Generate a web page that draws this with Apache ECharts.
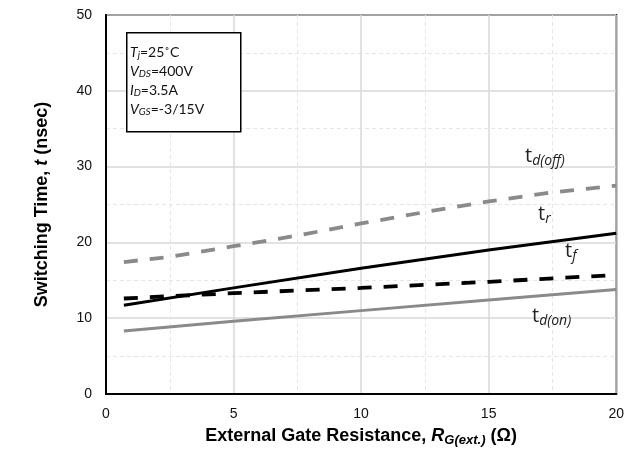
<!DOCTYPE html>
<html>
<head>
<meta charset="utf-8">
<script src="https://cdn.jsdelivr.net/npm/echarts@6/dist/echarts.min.js"></script>
<style>
html,body{margin:0;padding:0;background:#fff;}
#chart{width:627px;height:455px;}
</style>
</head>
<body>
<div id="chart"></div>
<script>
// ---- data (x = external gate resistance in ohm, y = switching time in ns) ----
const xTicks = [0, 5, 10, 15, 20];
const yTicks = [0, 10, 20, 30, 40, 50];

const tdOffX = [0.7, 2.5, 5, 7.5, 10, 12.5, 15, 17.5, 20];
const tdOffY = [17.4, 18.1, 19.5, 20.9, 22.5, 24.0, 25.4, 26.6, 27.5];

const trX = [0.7, 5, 10, 15, 20];
const trY = [11.7, 14.0, 16.6, 19.0, 21.2];

const tfX = [0.7, 2.5, 5, 10, 15, 20];
const tfY = [12.6, 12.9, 13.3, 14.0, 14.8, 15.7];

const tdOnX = [0.7, 5, 10, 15, 20];
const tdOnY = [8.3, 9.6, 11.0, 12.4, 13.8];

function pairs(xs, ys) { return xs.map((x, i) => [x, ys[i]]); }

const chart = echarts.init(document.getElementById('chart'), null, {renderer: 'canvas'});

const GRAY = '#8a8a8a';
const labelFont = '"Open Sans", Lato, sans-serif';
const boxFont = 'Lato, "Open Sans", sans-serif';
const arial = 'Liberation Sans, Arial, sans-serif';

function annot(left, top, main, sub) {
  return {
    type: 'text', left: left, top: top, z: 100,
    style: {
      text: '{m|' + main + '}{s|' + sub + '}',
      rich: {
        m: {fontFamily: labelFont, fontSize: 20, fill: '#222', lineHeight: 24},
        s: {fontFamily: labelFont, fontSize: 14, fontStyle: 'italic', fill: '#222', lineHeight: 14, padding: [9, 0, 0, 0]}
      }
    }
  };
}

const boxRich = {
  it: {fontFamily: boxFont, fontSize: 14, fontStyle: 'italic', fill: '#111', lineHeight: 19},
  sb: {fontFamily: boxFont, fontSize: 10, fontStyle: 'italic', fill: '#111', lineHeight: 10, padding: [6, 0, 0, 0]},
  n: {fontFamily: boxFont, fontSize: 14, fill: '#111', lineHeight: 19}
};

const option = {
  animation: false,
  backgroundColor: '#fff',
  grid: {left: 106, right: 8, top: 15, bottom: 61, show: true, borderColor: '#000', borderWidth: 2, containLabel: false},
  xAxis: {
    type: 'value', min: xTicks[0], max: xTicks[xTicks.length - 1], interval: 5,
    axisLine: {show: true, lineStyle: {color: '#000', width: 2}},
    axisTick: {show: false},
    axisLabel: {fontFamily: arial, fontSize: 14, color: '#111', margin: 13},
    splitLine: {show: true, lineStyle: {color: '#d9d9d9', width: 1.5}},
    minorTick: {show: false, splitNumber: 2},
    minorSplitLine: {show: true, lineStyle: {color: '#e6e6e6', width: 1, type: [4, 3]}},
    name: '{b|External Gate Resistance, }{bi|R}{bs|G(ext.)}{b| (Ω)}',
    nameLocation: 'middle', nameGap: 28,
    nameTextStyle: {
      rich: {
        b: {fontFamily: arial, fontSize: 18, fontWeight: 'bold', color: '#000', lineHeight: 24},
        bi: {fontFamily: arial, fontSize: 18, fontWeight: 'bold', fontStyle: 'italic', color: '#000', lineHeight: 24},
        bs: {fontFamily: arial, fontSize: 13, fontWeight: 'bold', fontStyle: 'italic', color: '#000', lineHeight: 13, padding: [8, 0, 0, 0]}
      }
    }
  },
  yAxis: {
    type: 'value', min: yTicks[0], max: yTicks[yTicks.length - 1], interval: 10,
    axisLine: {show: true, lineStyle: {color: '#000', width: 2}},
    axisTick: {show: false},
    axisLabel: {fontFamily: arial, fontSize: 14, color: '#111', margin: 14},
    splitLine: {show: true, lineStyle: {color: '#d9d9d9', width: 1.5}},
    minorTick: {show: false, splitNumber: 2},
    minorSplitLine: {show: true, lineStyle: {color: '#e6e6e6', width: 1, type: [4, 3]}},
    name: '{b|Switching Time, }{bi|t}{b| (nsec)}',
    nameLocation: 'middle', nameGap: 55, nameRotate: 90,
    nameTextStyle: {
      rich: {
        b: {fontFamily: arial, fontSize: 18, fontWeight: 'bold', color: '#000'},
        bi: {fontFamily: arial, fontSize: 18, fontWeight: 'bold', fontStyle: 'italic', color: '#000'}
      }
    }
  },
  series: [
    {name: 'td(off)', type: 'line', data: pairs(tdOffX, tdOffY), showSymbol: false, z: 5,
     lineStyle: {color: GRAY, width: 3.8, type: [14, 12]}},
    {name: 'tr', type: 'line', data: pairs(trX, trY), showSymbol: false, z: 5,
     lineStyle: {color: '#000', width: 3}},
    {name: 'tf', type: 'line', data: pairs(tfX, tfY), showSymbol: false, z: 6,
     lineStyle: {color: '#000', width: 3.8, type: [14, 12]}},
    {name: 'td(on)', type: 'line', data: pairs(tdOnX, tdOnY), showSymbol: false, z: 5,
     lineStyle: {color: GRAY, width: 3}}
  ],
  graphic: [
    {type: 'rect', left: 126, top: 32, z: 90,
     shape: {width: 114, height: 99},
     style: {fill: '#fff', stroke: '#000', lineWidth: 1.5}},
    {type: 'text', left: 130, top: 44, z: 100,
     style: {
       text: '{it|T}{sb|j}{n|=25˚C}\n{it|V}{sb|DS}{n|=400V}\n{it|I}{sb|D}{n|=3.5A}\n{it|V}{sb|GS}{n|=-3/15V}',
       rich: boxRich
     }},
    annot(525, 145, 't', 'd(off)'),
    annot(538, 203, 't', 'r'),
    annot(565, 240, 't', 'f'),
    annot(532, 305, 't', 'd(on)')
  ]
};
chart.setOption(option);
</script>
</body>
</html>
